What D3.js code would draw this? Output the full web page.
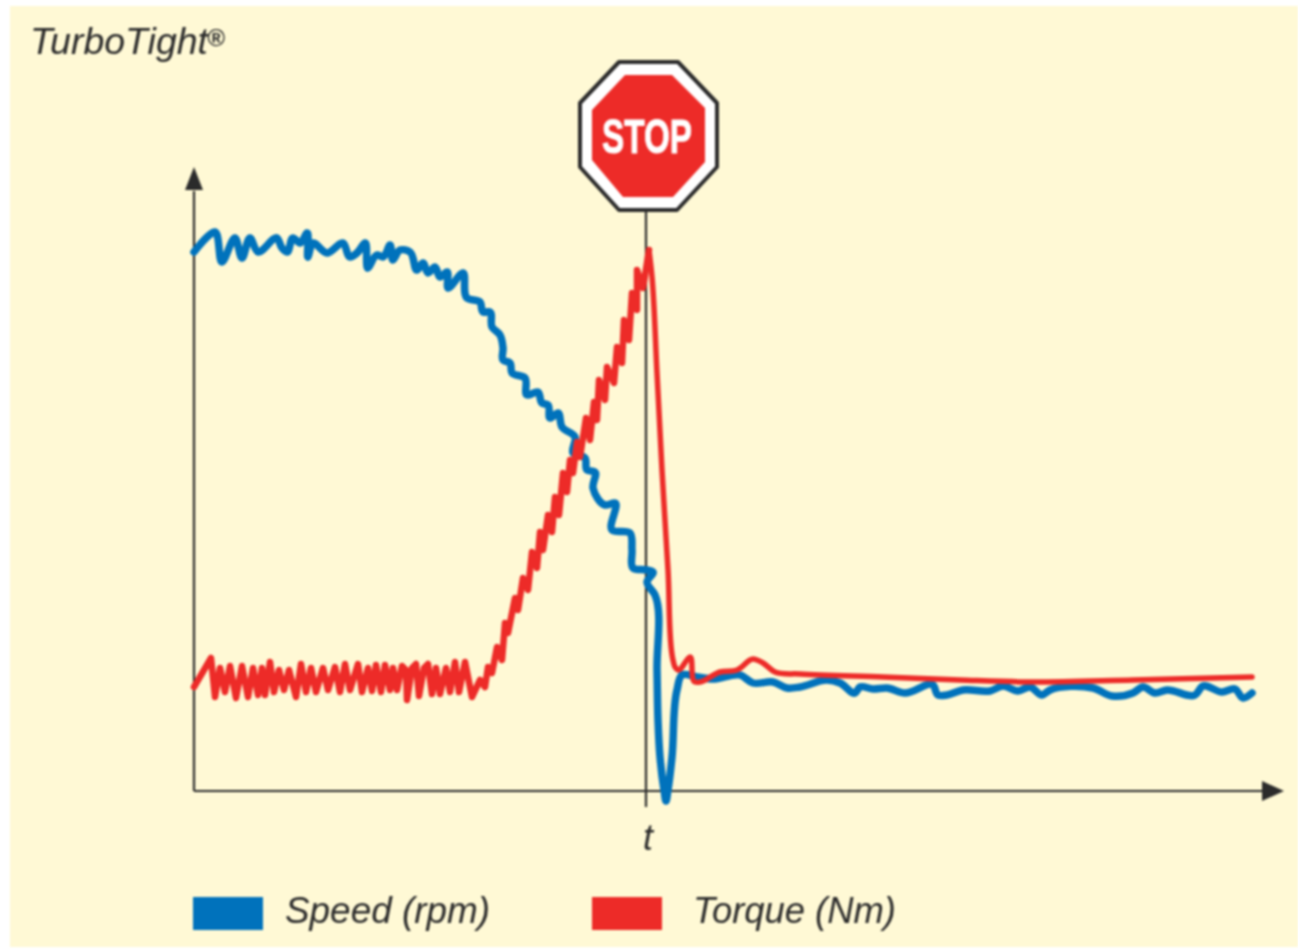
<!DOCTYPE html>
<html><head><meta charset="utf-8">
<script src="https://cdn.jsdelivr.net/npm/d3@7/dist/d3.min.js"></script>
<style>html,body{margin:0;padding:0;background:#fff;overflow:hidden}svg{display:block;filter:blur(0.8px)}</style>
</head><body><div id="c"></div>
<script>
const speedT=[0,21,28,41,48,56,64,83,88,93,99,106,113,114,119,133,149,156,163,171,174,183,189,196,199,206,216,223,229,234,241,246,253,254,269,273,286,289,296,298,306,309,309,316,318,331,333,344,348,354,356,364,368,381,379,391,393,401,399,411,421,418,436,438,439,453,459,453,461,463,464,466,470,472,474,478,483,488,503,519,546,559,579,593,606,633,646,661,666,679,693,711,739,744,753,769,796,809,824,836,848,856,899,918,939,949,961,973,1001,1009,1028,1041,1049,1058];
const speedV=[539,559,529,553,533,553,539,553,543,539,553,548,558,534,548,538,548,534,538,548,523,536,534,546,531,541,539,521,528,518,524,514,519,503,518,493,489,479,479,464,456,443,431,428,418,413,396,399,388,386,373,378,364,354,338,333,321,319,303,286,288,261,258,241,223,221,219,209,196,121,71,34,1,-10,1,34,101,116,114,112,116,108,109,103,104,111,108,98,104,102,103,98,106,96,96,101,100,105,100,104,96,101,103,95,98,104,98,101,96,105,99,102,93,98];
const torqueT=[0,17,21,26,31,36,42,48,54,59,64,68,71,76,80,85,90,95,102,107,112,117,122,129,134,141,146,151,156,164,168,174,178,182,187,191,196,199,203,208,212,213,218,222,225,230,234,238,242,246,252,256,261,265,271,278,286,291,294,298,303,308,311,314,321,324,329,334,338,343,346,349,354,358,361,365,369,373,376,379,383,386,392,396,400,403,405,411,413,420,423,428,430,435,438,443,443,449,455];
const torqueV=[104,133,94,123,99,125,93,125,94,123,96,123,96,129,99,121,101,121,94,127,99,123,99,123,101,124,99,127,101,127,99,123,100,126,99,126,101,123,101,125,121,91,123,127,95,123,127,97,123,97,123,99,129,99,129,94,111,104,124,118,144,131,168,158,193,181,213,201,239,223,259,241,276,259,294,276,318,299,331,318,349,334,373,351,389,371,411,391,424,408,444,428,471,451,498,481,521,503,541];
const decayT=[455,458,463,468,474,479,481,484,496,501,506,526,543,559,569,581,606,689,766,833,939,1058];
const decayV=[541,514,418,321,221,131,124,121,134,109,109,119,121,132,128,119,117,114,111,109,111,114];
const stopMarkT=452;
const labels={title:"TurboTight",reg:"®",xTick:"t",speed:"Speed (rpm)",torque:"Torque (Nm)",stop:"STOP"};

const W=1298,H=949,ink="#2b2b2b",blue="#0072BC",red="#ED2B28",bg="#FFF9D5";
const svg=d3.select("#c").append("svg").attr("width",W).attr("height",H);
const x=d3.scaleLinear().domain([0,1090]).range([194,1284]);
const y=d3.scaleLinear().domain([0,624]).range([791,167]);
svg.append("rect").attr("x",10).attr("y",6).attr("width",W).attr("height",941).attr("fill",bg);

const sans="'Liberation Sans',Arial,sans-serif";
svg.append("text").attr("x",30).attr("y",54).attr("font-family",sans).attr("font-style","italic").attr("font-size",37).attr("fill",ink).attr("textLength",178).attr("lengthAdjust","spacingAndGlyphs").text(labels.title);
svg.append("text").attr("x",207).attr("y",46).attr("font-family",sans).attr("font-style","italic").attr("font-weight","bold").attr("font-size",24).attr("fill",ink).text(labels.reg);

// axes
const ax=svg.append("g").attr("stroke",ink).attr("stroke-width",2.2);
ax.append("line").attr("x1",x(0)).attr("x2",x(1070)).attr("y1",y(0)).attr("y2",y(0));
ax.append("line").attr("x1",x(0)).attr("x2",x(0)).attr("y1",y(0)).attr("y2",y(600));
ax.append("line").attr("x1",x(stopMarkT)).attr("x2",x(stopMarkT)).attr("y1",y(-16)).attr("y2",205);
svg.append("path").attr("fill",ink).attr("d",`M${x(1090)},${y(0)}L${x(1068)},${y(0)-10}L${x(1068)},${y(0)+10}Z`);
svg.append("path").attr("fill",ink).attr("d",`M${x(0)},${y(624)}L${x(0)-9},${y(601)}L${x(0)+9},${y(601)}Z`);

// series
const zip=(a,b)=>a.map((t,i)=>[t,b[i]]);
const line=d3.line().x(d=>x(d[0])).y(d=>y(d[1]));
const smooth=d3.line().x(d=>x(d[0])).y(d=>y(d[1])).curve(d3.curveCatmullRom.alpha(0.8));
const draw=(gen,a,b,c,w)=>svg.append("path").attr("d",gen(zip(a,b))).attr("fill","none").attr("stroke",c).attr("stroke-width",w).attr("stroke-linejoin","round").attr("stroke-linecap","round");
draw(smooth,speedT,speedV,blue,7.5);
draw(smooth,decayT,decayV,red,5.5);
draw(line,torqueT,torqueV,red,6.5);

// stop sign
const pts=a=>a.map(p=>p.join(",")).join(" ");
svg.append("polygon").attr("points",pts([[619,62],[678,62],[717,103],[717,167],[677,210],[619,210],[580,167],[580,103]])).attr("fill","#fff").attr("stroke",ink).attr("stroke-width",4).attr("stroke-linejoin","round");
svg.append("polygon").attr("points",pts([[625,75],[672,75],[705,108],[705,162],[673,197],[623,197],[592,160],[592,110]])).attr("fill",red);
svg.append("text").attr("x",602).attr("y",153).attr("font-family","'Liberation Sans Narrow','Liberation Sans',sans-serif").attr("font-weight","bold").attr("font-size",48).attr("fill","#fff").attr("stroke","#fff").attr("stroke-width",1).attr("textLength",90).attr("lengthAdjust","spacingAndGlyphs").text(labels.stop);

// x label
svg.append("text").attr("x",x(stopMarkT)+2).attr("y",850).attr("text-anchor","middle").attr("font-family",sans).attr("font-style","italic").attr("font-size",36).attr("fill",ink).text(labels.xTick);

// legend
svg.append("rect").attr("x",193).attr("y",897).attr("width",70).attr("height",33).attr("fill",blue);
svg.append("rect").attr("x",592).attr("y",897).attr("width",70).attr("height",33).attr("fill",red);
svg.append("text").attr("x",285).attr("y",923).attr("font-family",sans).attr("font-style","italic").attr("font-size",36).attr("fill",ink).attr("textLength",205).attr("lengthAdjust","spacingAndGlyphs").text(labels.speed);
svg.append("text").attr("x",693).attr("y",923).attr("font-family",sans).attr("font-style","italic").attr("font-size",36).attr("fill",ink).attr("textLength",203).attr("lengthAdjust","spacingAndGlyphs").text(labels.torque);
</script></body></html>
